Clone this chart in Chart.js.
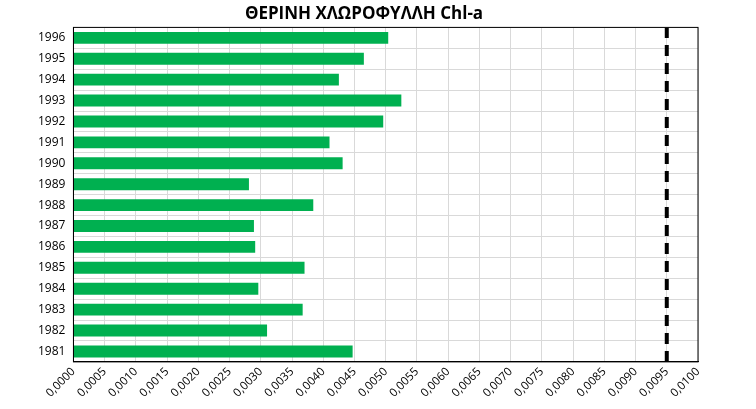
<!DOCTYPE html>
<html>
<head>
<meta charset="utf-8">
<script src="https://cdn.jsdelivr.net/npm/chart.js@4"></script>
<style>
  body { margin: 0; background: #fff; }
  #wrap { width: 756px; height: 409px; }
</style>
</head>
<body>
<div id="wrap"><canvas id="chart"></canvas></div>
<script>
// years, top to bottom as in the picture
const years = ["1996", "1995", "1994", "1993", "1992", "1991", "1990", "1989",
               "1988", "1987", "1986", "1985", "1984", "1983", "1982", "1981"];
const chla = [0.00504, 0.00465, 0.00425, 0.00525, 0.00496, 0.00410, 0.00431, 0.00281,
              0.00384, 0.00289, 0.00291, 0.00370, 0.00296, 0.00367, 0.00310, 0.00447];
// limit line
const limitValue = 0.0095;
const limitLine = [{ x: limitValue, y: 0 }, { x: limitValue, y: 1 }];

const context = document.getElementById("chart").getContext("2d");
new Chart(context, {
    type: "bar",
    data: {
        labels: years,
        datasets: [{
            label: "Chl-a",
            data: chla,
            backgroundColor: "#00b050",
            categoryPercentage: 1,
            barPercentage: 0.57,
            grouped: false,
            yAxisID: "y"
        }, {
            type: "line",
            label: "limit",
            data: limitLine,
            yAxisID: "y2",
            borderColor: "#000",
            borderWidth: 4,
            borderDash: [11, 7],
            pointRadius: 0,
            fill: false
        }]
    },
    options: {
        indexAxis: "y",
        responsive: true,
        maintainAspectRatio: false,
        animation: false,
        layout: { padding: { left: 30, right: 58, top: 4, bottom: 6 } },
        plugins: {
            legend: { display: false },
            tooltip: { enabled: false },
            title: {
                display: true,
                text: "ΘΕΡΙΝΗ ΧΛΩΡΟΦΥΛΛΗ Chl-a",
                color: "#000",
                font: { family: "Open Sans", size: 17, weight: "bold" },
                padding: { top: 0, bottom: 3 }
            }
        },
        scales: {
            x: {
                type: "linear",
                min: 0,
                max: 0.01,
                ticks: {
                    stepSize: 0.0005,
                    color: "#000",
                    font: { family: "Open Sans", size: 11.5 },
                    maxRotation: 45,
                    minRotation: 45,
                    callback: v => v.toFixed(4).replace(".", ",")
                },
                grid: { color: "#d9d9d9", drawTicks: false },
                border: { color: "#000" }
            },
            y: {
                ticks: { color: "#000", font: { family: "Open Sans", size: 12 }, padding: 8 },
                grid: { color: "#d9d9d9", offset: true, drawTicks: false },
                border: { color: "#000" }
            },
            y2: {
                type: "linear",
                min: 0,
                max: 1,
                offset: false,
                display: false
            }
        }
    },
    plugins: [{
        id: "frame",
        afterDraw(chart) {
            const a = chart.chartArea, c = chart.ctx;
            c.save();
            c.strokeStyle = "#000";
            c.lineWidth = 1;
            c.strokeRect(a.left, a.top, a.right - a.left, a.bottom - a.top);
            c.restore();
        }
    }]
});
</script>
</body>
</html>
